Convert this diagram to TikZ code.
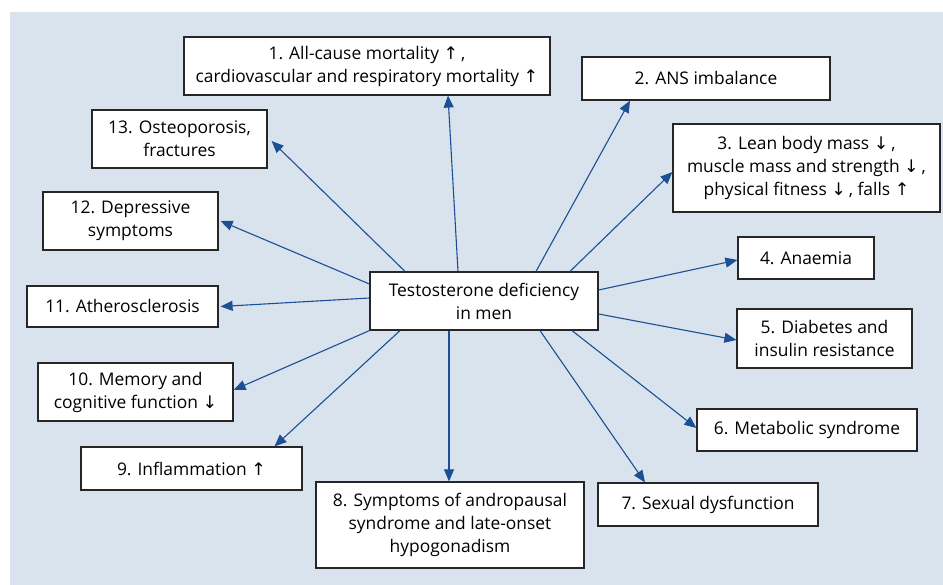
\documentclass[tikz,border=0pt]{standalone}
\usepackage{fontspec}
\setmainfont{Open Sans}
\newfontfamily\arrfont{DejaVu Sans}
\usetikzlibrary{arrows.meta,calc}

\newcommand{\uarr}{{\arrfont ↑}}
\newcommand{\darr}{{\arrfont ↓}}
\definecolor{bgblue}{HTML}{D9E3EE}
\definecolor{arrblue}{HTML}{1C4F94}

\begin{document}
\begin{tikzpicture}[x=1pt, y=-1pt,
    box/.style={draw=black!85, line width=1.2pt, fill=white, align=center,
        inner sep=0pt, font=\fontsize{17.4}{23}\selectfont},
    link/.style={draw=arrblue, line width=1.1pt, -{Triangle[length=12pt,width=10pt]}}]
        \useasboundingbox (0, 0) rectangle (943, 585);
        \fill[bgblue] (10, 12) rectangle (943, 585);

        % centre
        \node[box, minimum width=228pt, minimum height=58pt] (td) at (484, 301)
            {Testosterone deficiency\\in men};

        % consequences
        \node[box, minimum width=366pt, minimum height=58pt] (mort) at (367, 66)
            {1. All-cause mortality \uarr\,,\\cardiovascular and respiratory mortality \uarr};
        \node[box, minimum width=248pt, minimum height=43pt] (ans) at (706, 78.5)
            {2. ANS imbalance};
        \node[box, minimum width=267pt, minimum height=88pt] (lean) at (806.5, 168)
            {3. Lean body mass \darr\,,\\muscle mass and strength \darr\,,\\physical fitness \darr\,, falls \uarr};
        \node[box, minimum width=136pt, minimum height=42pt] (anae) at (806, 258)
            {4. Anaemia};
        \node[box, minimum width=175pt, minimum height=59pt] (diab) at (824.5, 338.5)
            {5. Diabetes and\\insulin resistance};
        \node[box, minimum width=220pt, minimum height=42pt] (meta) at (807, 430)
            {6. Metabolic syndrome};
        \node[box, minimum width=220pt, minimum height=43pt] (sex) at (708, 504.5)
            {7. Sexual dysfunction};
        \node[box, minimum width=268pt, minimum height=86pt] (andro) at (450, 525)
            {8. Symptoms of andropausal\\syndrome and late-onset\\hypogonadism};
        \node[box, minimum width=221pt, minimum height=43pt] (infl) at (191.5, 468.5)
            {9. Inflammation \uarr};
        \node[box, minimum width=195pt, minimum height=58pt] (mem) at (135.5, 392)
            {10. Memory and\\cognitive function \darr};
        \node[box, minimum width=191pt, minimum height=41pt] (ath) at (122.5, 306.5)
            {11. Atherosclerosis};
        \node[box, minimum width=175pt, minimum height=58pt] (depr) at (130.5, 221)
            {12. Depressive\\symptoms};
        \node[box, minimum width=175pt, minimum height=58pt] (oste) at (179.5, 139)
            {13. Osteoporosis,\\fractures};

        % arrows
        \draw[link] ($(td.north)+(-26, 0)$) -- ($(mort.south)+(81, 0)$);
        \draw[link] ($(td.north)+(52, 0)$) -- ($(ans.south)+(-76, 0)$);
        \draw[link] ($(td.north)+(86, 0)$) -- ($(lean.west)+(0, 4)$);
        \draw[link] ($(td.east)+(0, -11)$) -- ($(anae.west)+(0, 2)$);
        \draw[link] ($(td.east)+(0, 13)$) -- ($(diab.west)+(0, 1.5)$);
        \draw[link] ($(td.south)+(88, 0)$) -- ($(meta.west)+(0, -2)$);
        \draw[link] ($(td.south)+(56, 0)$) -- ($(sex.north)+(-63, 0)$);
        \draw[link] ($(td.south)+(-35, 0)$) -- ($(andro.north)+(-1, 0)$);
        \draw[link] ($(td.south)+(-84, 0)$) -- ($(infl.north)+(83, 0)$);
        \draw[link] (td.south west) -- ($(mem.east)+(0, -2)$);
        \draw[link] ($(td.west)+(0, -3)$) -- ($(ath.east)+(2, 0)$);
        \draw[link] ($(td.west)+(0, -17)$) -- ($(depr.east)+(2, 0)$);
        \draw[link] ($(td.north)+(-79, 0)$) -- ($(oste.east)+(4, 2)$);
    \end{tikzpicture}
\end{document}
